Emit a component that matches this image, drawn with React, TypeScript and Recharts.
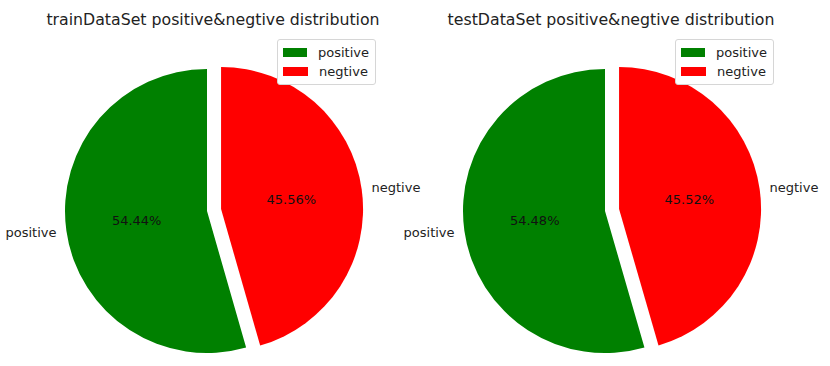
import {PieChart, Pie, Cell, Legend, Sector} from 'recharts';

const categories = ['positive', 'negtive'];
const trainValues = [54.44, 45.56];
const testValues = [54.48, 45.52];
const colors = ['#008000', '#ff0000'];
const EXPLODE = 1; // index of the slice pulled out

const FONT = '"DejaVu Sans", sans-serif';

const toRows = (vals: number[]) => categories.map((name, i) => ({name, value: vals[i]}));

const renderSlice = (props: any) => {
  const {cx, cy, midAngle, outerRadius, startAngle, endAngle, percent, name, index} = props;
  const rad = (-midAngle * Math.PI) / 180;
  const shift = index === EXPLODE ? outerRadius * 0.1 : 0;
  const ox = cx + shift * Math.cos(rad);
  const oy = cy + shift * Math.sin(rad);
  const px = ox + outerRadius * 0.5 * Math.cos(rad);
  const py = oy + outerRadius * 0.5 * Math.sin(rad);
  const lx = ox + outerRadius * 1.07 * Math.cos(rad);
  const ly = oy + outerRadius * 1.07 * Math.sin(rad);
  return (
    <g>
      {shift > 0 && (
        <Sector cx={ox} cy={oy} innerRadius={0} outerRadius={outerRadius}
          startAngle={startAngle} endAngle={endAngle} fill={colors[index]} stroke="none" />
      )}
      <text x={px} y={py} textAnchor="middle" dominantBaseline="central"
        fontSize={13} fontFamily={FONT} fill="#111">
        {(percent * 100).toFixed(2)}%
      </text>
      <text x={lx} y={ly} textAnchor={Math.cos(rad) >= 0 ? 'start' : 'end'} dominantBaseline="central"
        fontSize={13} fontFamily={FONT} fill="#222">
        {name}
      </text>
    </g>
  );
};

const LegendBox = ({left}: {left: number}) => (
  <div style={{position: 'absolute', top: 39, left, border: '1px solid #d6d6d6', borderRadius: 3,
    background: '#fff', padding: '3px 6px 3px 5px', fontFamily: FONT, fontSize: 13, color: '#222',
    width: 86, boxSizing: 'content-box'}}>
    {categories.map((c, i) => (
      <div key={c} style={{display: 'flex', alignItems: 'center', height: 19}}>
        <span style={{display: 'inline-block', width: 25, height: 9, background: colors[i], marginRight: 11}} />
        {c}
      </div>
    ))}
  </div>
);

const Legends = () => (
  <div style={{position: 'relative', width: 830, height: 0}}>
    <LegendBox left={277} />
    <LegendBox left={675} />
  </div>
);

const titleStyle = (center: number): any => ({
  position: 'absolute', top: 10, left: center - 200, width: 400, textAlign: 'center',
  fontFamily: FONT, fontSize: 15.75, color: '#222', whiteSpace: 'nowrap',
});

const App = () => (
  <div style={{position: 'absolute', top: 0, left: 0, width: 830, height: 366, background: '#fff'}}>
    <div style={titleStyle(213)}>trainDataSet positive&amp;negtive distribution</div>
    <div style={titleStyle(611)}>testDataSet positive&amp;negtive distribution</div>
    <PieChart width={830} height={366} margin={{top: 0, right: 0, bottom: 0, left: 0}}>
      <Pie data={toRows(trainValues)} dataKey="value" nameKey="name" cx={207} cy={211}
        outerRadius={142} startAngle={90} endAngle={450} stroke="none"
        label={renderSlice} labelLine={false} isAnimationActive={false}>
        {categories.map((c, i) => (
          <Cell key={c} fill={i === EXPLODE ? 'none' : colors[i]} />
        ))}
      </Pie>
      <Pie data={toRows(testValues)} dataKey="value" nameKey="name" cx={605} cy={211}
        outerRadius={142} startAngle={90} endAngle={450} stroke="none"
        label={renderSlice} labelLine={false} isAnimationActive={false}>
        {categories.map((c, i) => (
          <Cell key={c} fill={i === EXPLODE ? 'none' : colors[i]} />
        ))}
      </Pie>
      <Legend content={<Legends />} wrapperStyle={{position: 'absolute', top: 0, left: 0, width: 830}} />
    </PieChart>
  </div>
);

export default App;
